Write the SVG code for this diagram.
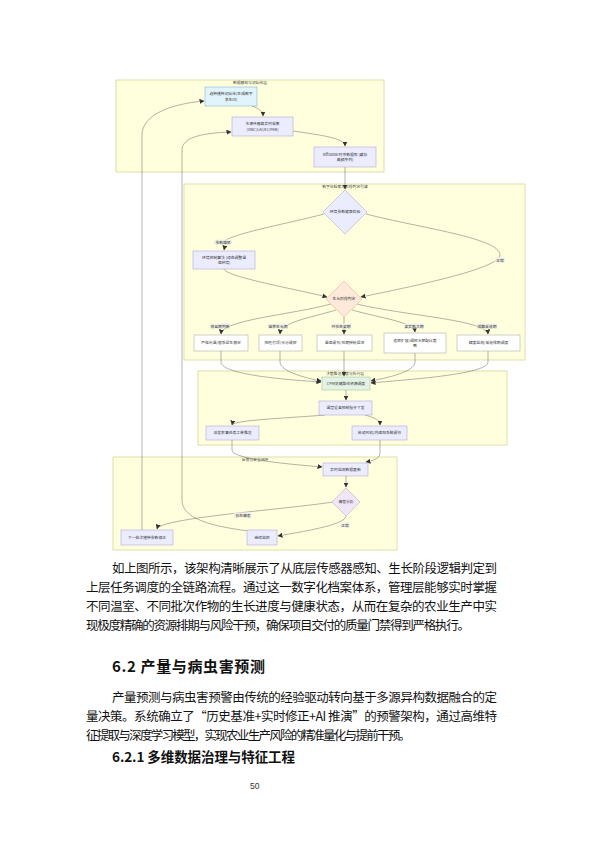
<svg xmlns="http://www.w3.org/2000/svg" width="595" height="842" viewBox="0 0 595 842">
<style>
.cl{fill:#ffffde;stroke:#c8c87a;stroke-width:0.6}
.ct{font-family:"Noto Sans CJK SC",sans-serif;font-size:3.8px;fill:#444;text-anchor:middle}
.nd{fill:#ececff;stroke:#a898dc;stroke-width:0.5}
.nw{fill:#ffffff;stroke:#a0a0a0;stroke-width:0.5}
.nt{font-family:"Noto Sans CJK SC",sans-serif;font-size:3.8px;fill:#333;text-anchor:middle}
.e{fill:none;stroke:#555;stroke-width:0.45;marker-end:url(#ah)}
.lb{fill:#f0f0e8;opacity:0.9}
.lt{font-family:"Noto Sans CJK SC",sans-serif;font-size:3.8px;fill:#333;text-anchor:middle}
.p{font-family:"Noto Sans CJK SC",sans-serif;font-size:12.5px;fill:#111}
.h{font-family:"Noto Sans CJK SC",sans-serif;font-weight:bold;fill:#111}
</style>
<defs>
<marker id="ah" viewBox="0 0 10 10" refX="9" refY="5" markerWidth="5" markerHeight="5" orient="auto" markerUnits="userSpaceOnUse">
<path d="M0,0 L10,5 L0,10 z" fill="#333"/>
</marker>
</defs>
<rect width="595" height="842" fill="#ffffff"/>

<g id="cluster1"><rect class="cl" x="116" y="80" width="268" height="92"/><text class="ct" x="250" y="84">数据感知与初始化层</text></g>
<g id="cluster2"><rect class="cl" x="184" y="184" width="341" height="176"/><text class="ct" x="345" y="188">数字化档案与阶段判定引擎</text></g>
<g id="cluster3"><rect class="cl" x="198" y="371" width="309" height="74"/><text class="ct" x="345" y="375">决策推送调度与执行层</text></g>
<g id="cluster4"><rect class="cl" x="113" y="457" width="284" height="93"/><text class="ct" x="255" y="461">反馈与安全闭环</text></g>

<g id="connectors">
<path class="e" d="M252,106 C258,108 263,111 263,116"/>
<path class="e" d="M293,131 C320,135 345,138 345,146"/>
<path class="e" d="M345,167 L345,189"/>
<path class="e" d="M142,530 L142,135 C142,115 170,104 204,101"/>
<path class="e" d="M249,531 C200,525 182,515 182,500 L182,150 C182,138 200,133 231,132"/>
<path class="e" d="M324,214 C290,223 240,232 226,240 L224,250"/>
<path class="e" d="M224,269 C226,277 300,290 327,297"/>
<path class="e" d="M366,214 C420,228 500,238 500,255 C500,268 420,285 361,297"/>
<path class="e" d="M331,304 C290,315 222,320 221,334"/>
<path class="e" d="M336,310 C310,318 281,322 280,334"/>
<path class="e" d="M344,317 L344,334"/>
<path class="e" d="M352,310 C380,318 414,322 415,332"/>
<path class="e" d="M357,304 C400,315 487,320 488,334"/>
<path class="e" d="M221,351 L221,362 C221,375 290,380 321,382"/>
<path class="e" d="M280,351 L280,362 C280,372 310,379 321,381"/>
<path class="e" d="M344,351 L344,376"/>
<path class="e" d="M415,353 L415,362 C415,373 380,379 371,381"/>
<path class="e" d="M488,351 L488,362 C488,375 400,380 371,383"/>
<path class="e" d="M346,390 L346,400"/>
<path class="e" d="M325,415 C290,418 233,420 232,425"/>
<path class="e" d="M365,415 C375,418 380,420 380,425"/>
<path class="e" d="M232,440 L232,450 C232,460 300,465 322,467"/>
<path class="e" d="M380,440 L380,453 C380,459 372,461 366,462"/>
<path class="e" d="M346,476 L346,487"/>
<path class="e" d="M333,502 C280,510 160,518 157,529"/>
<path class="e" d="M346,516 C346,525 300,532 278,536"/>
<g id="edge-labels">
<rect class="lb" x="214" y="239.5" width="18" height="5"/><text class="lt" x="223" y="243.5">参数越限</text>
<rect class="lb" x="495" y="257.5" width="10" height="5"/><text class="lt" x="500" y="261.5">正常</text>
<rect class="lb" x="210" y="323.5" width="20" height="5"/><text class="lt" x="220" y="327.5">育苗期判断</text>
<rect class="lb" x="268" y="323.5" width="20" height="5"/><text class="lt" x="278" y="327.5">营养生长期</text>
<rect class="lb" x="331" y="323.5" width="20" height="5"/><text class="lt" x="341" y="327.5">开花坐果期</text>
<rect class="lb" x="404" y="323.5" width="20" height="5"/><text class="lt" x="414" y="327.5">果实膨大期</text>
<rect class="lb" x="477" y="323.5" width="20" height="5"/><text class="lt" x="487" y="327.5">成熟采收期</text>
<rect class="lb" x="234" y="512.5" width="18" height="5"/><text class="lt" x="243" y="516.5">存在偏差</text>
<rect class="lb" x="340" y="522.5" width="10" height="5"/><text class="lt" x="345" y="526.5">正常</text>
</g>
</g>

<g id="nA"><rect x="205" y="87" width="52" height="19" fill="#e1f3fc" stroke="#7aa8c8" stroke-width="0.5"/><text class="nt" x="231" y="95">选种播种初始化(生成数字</text><text class="nt" x="231" y="100.5">孪生ID)</text></g>
<g id="nB"><rect class="nd" x="232" y="117" width="61" height="19"/><text class="nt" x="262.5" y="125">多源传感器实时采集</text><text class="nt" x="262.5" y="130.5">(VWC/LAI/EC/PAR)</text></g>
<g id="nC"><rect class="nd" x="314" y="147" width="62" height="20"/><text class="nt" x="345" y="155.5">InfluxDB 时序数据库 (缓存</text><text class="nt" x="345" y="161">高频序列)</text></g>
<g id="nD1"><polygon points="345,190 367,212 345,234 323,212" fill="#ececff" stroke="#a898dc" stroke-width="0.5"/><text class="nt" x="345" y="213.3">环境参数健康校验</text></g>
<g id="nE"><rect class="nd" x="193" y="251" width="62" height="18"/><text class="nt" x="224" y="258.5">环境控制算法 (动态调整温</text><text class="nt" x="224" y="264">湿环境)</text></g>
<g id="nD2"><polygon points="344,281 362,299 344,317 326,299" fill="#fde8da" stroke="#e0a888" stroke-width="0.5"/><text class="nt" x="344" y="300.3">生长阶段判定</text></g>
<g id="nN1"><rect class="nw" x="194" y="335" width="54" height="16"/><text class="nt" x="221" y="344.3">严格光温/根系促生稳定</text></g>
<g id="nN2"><rect class="nw" x="259" y="335" width="43" height="16"/><text class="nt" x="280.5" y="344.3">控旺打顶/水分调控</text></g>
<g id="nN3"><rect class="nw" x="317" y="335" width="55" height="16"/><text class="nt" x="344.5" y="344.3">温湿调节/花期授粉促进</text></g>
<g id="nN4"><rect class="nw" x="384" y="333" width="62" height="20"/><text class="nt" x="415" y="341.5">追肥扩容/调控水肥配比策</text><text class="nt" x="415" y="347">略</text></g>
<g id="nN5"><rect class="nw" x="457" y="335" width="63" height="16"/><text class="nt" x="488.5" y="344.3">糖度监测/采收排期调度</text></g>
<g id="nF"><rect x="322" y="377" width="48" height="13" fill="#e3f2e4" stroke="#8fc097" stroke-width="0.5"/><text class="nt" x="346" y="384.8">CPM关键路径资源调度</text></g>
<g id="nG"><rect class="nd" x="319" y="401" width="53" height="14"/><text class="nt" x="345.5" y="409.3">温室设备控制指令下发</text></g>
<g id="nH"><rect class="nd" x="206" y="426" width="53" height="14"/><text class="nt" x="232.5" y="434.3">派发农事任务工单推送</text></g>
<g id="nI"><rect class="nd" x="352" y="426" width="55" height="14"/><text class="nt" x="379.5" y="434.3">启动风机/内遮阳系统调节</text></g>
<g id="nJ"><rect class="nd" x="323" y="463" width="45" height="13"/><text class="nt" x="345.5" y="470.8">实时监测数据更新</text></g>
<g id="nK"><polygon points="346,488 360,502 346,516 332,502" fill="#f1e6f6" stroke="#b89cc8" stroke-width="0.5"/><text class="nt" x="346" y="503.3">偏差分析</text></g>
<g id="nL"><rect class="nd" x="121" y="530" width="52" height="15"/><text class="nt" x="147" y="538.8">下一批次播种参数修正</text></g>
<g id="nM"><rect class="nd" x="247" y="530" width="30" height="15"/><text class="nt" x="262" y="538.8">继续监控</text></g>

<g id="body">
<text class="p" x="112" y="573" textLength="385" lengthAdjust="spacing">如上图所示，该架构清晰展示了从底层传感器感知、生长阶段逻辑判定到</text>
<text class="p" x="86" y="592" textLength="411" lengthAdjust="spacing">上层任务调度的全链路流程。通过这一数字化档案体系，管理层能够实时掌握</text>
<text class="p" x="86" y="611" textLength="411" lengthAdjust="spacing">不同温室、不同批次作物的生长进度与健康状态，从而在复杂的农业生产中实</text>
<text class="p" x="86" y="630" textLength="384" lengthAdjust="spacing">现极度精确的资源排期与风险干预，确保项目交付的质量门禁得到严格执行。</text>
<text class="h" x="112" y="672" font-size="15" textLength="153" lengthAdjust="spacing">6.2 产量与病虫害预测</text>
<text class="p" x="112" y="702" textLength="385" lengthAdjust="spacing">产量预测与病虫害预警由传统的经验驱动转向基于多源异构数据融合的定</text>
<text class="p" x="86" y="721" textLength="411" lengthAdjust="spacing">量决策。系统确立了“历史基准+实时修正+AI 推演”的预警架构，通过高维特</text>
<text class="p" x="86" y="740" font-size="11.5" textLength="325" lengthAdjust="spacing">征提取与深度学习模型，实现农业生产风险的精准量化与提前干预。</text>
<text class="h" x="112" y="762" font-size="13.5" textLength="183" lengthAdjust="spacing">6.2.1 多维数据治理与特征工程</text>
<text x="250" y="789" font-family="Liberation Sans, sans-serif" font-size="8.5" fill="#333">50</text>
</g>
</svg>
